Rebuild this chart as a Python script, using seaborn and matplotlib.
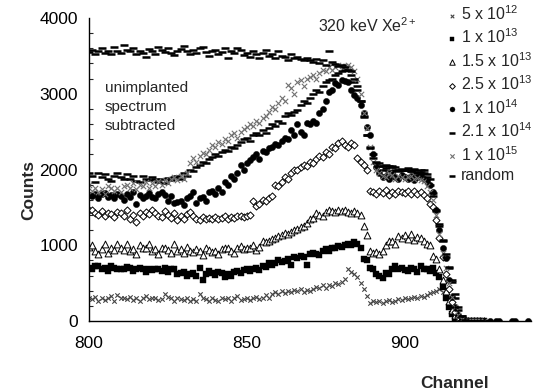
import numpy as np
import pandas as pd
import matplotlib
matplotlib.use("Agg")
import matplotlib.pyplot as plt
from matplotlib.ticker import MultipleLocator
import seaborn as sns

sns.set_theme(style="white")
plt.rcParams['font.family'] = ['Liberation Sans', 'DejaVu Sans']
plt.rcParams['mathtext.fontset'] = 'custom'
plt.rcParams['mathtext.rm'] = 'Liberation Sans'
plt.rcParams['mathtext.it'] = 'Liberation Sans'

channels = list(range(800, 926))

dose_5e12 = [300, 290, 320, 260, 310, 280, 300, 330, 270, 340,
             310, 300, 290, 320, 280, 300, 270, 310, 330, 290,
             300, 310, 280, 290, 350, 320, 300, 260, 310, 290,
             280, 300, 270, 290, 260, 360, 310, 290, 270, 300,
             280, 260, 300, 290, 310, 270, 300, 330, 280, 290,
             300, 280, 310, 320, 290, 300, 340, 310, 350, 380,
             360, 390, 370, 400, 380, 410, 390, 420, 380, 410,
             400, 420, 450, 430, 470, 440, 480, 460, 500, 490,
             520, 560, 690, 650, 620, 580, 500, 420, 330, 240,
             260, 250, 270, 240, 260, 280, 250, 270, 290, 280,
             300, 290, 310, 320, 300, 330, 320, 340, 370, 380,
             400, 420, 380, 300, 200, 120, 60, 30, 10, 0,
             0, 0, 0, 0, 0, 0]

dose_1e13 = [700, 690, 730, 720, 680, 700, 660, 720, 700, 690,
             690, 680, 710, 700, 660, 690, 700, 680, 650, 690,
             670, 690, 680, 660, 700, 650, 680, 690, 620, 640,
             650, 600, 620, 640, 600, 700, 540, 620, 660, 640,
             610, 650, 630, 580, 620, 600, 650, 660, 640, 670,
             680, 660, 690, 700, 670, 720, 710, 760, 740, 760,
             800, 780, 790, 820, 740, 840, 830, 860, 850, 740,
             880, 900, 890, 870, 930, 950, 920, 970, 960, 990,
             980, 1000, 1020, 1000, 1040, 1010, 970, 820, 800, 700,
             680, 620, 600, 570, 640, 620, 680, 720, 690, 700,
             670, 660, 700, 690, 650, 720, 690, 680, 660, 700,
             640, 580, 450, 300, 180, 90, 40, 10, 0, 0,
             0, 0, 0, 0, 0, 0]

dose_15e13 = [980, 1000, 920, 890, 950, 1010, 900, 960, 940, 1020,
              960, 940, 1020, 930, 950, 890, 1000, 960, 970, 1010,
              920, 950, 880, 970, 960, 940, 900, 1010, 930, 950,
              900, 980, 920, 910, 950, 930, 870, 960, 940, 910,
              920, 890, 950, 970, 960, 930, 900, 960, 990, 950,
              960, 970, 1000, 940, 980, 1050, 1040, 1060, 1080, 1100,
              1120, 1140, 1160, 1150, 1180, 1200, 1220, 1240, 1260, 1300,
              1350, 1360, 1420, 1400, 1380, 1440, 1460, 1450, 1440, 1460,
              1450, 1470, 1440, 1430, 1450, 1420, 1400, 1250, 1130, 920,
              900, 910, 890, 920, 1000, 1050, 1060, 1020, 1120, 1100,
              1140, 1080, 1150, 1070, 1110, 1090, 1050, 1020, 1000, 860,
              820, 680, 540, 400, 260, 150, 80, 30, 10, 0,
              0, 0, 0, 0, 0, 0]

dose_25e13 = [1460, 1470, 1420, 1400, 1450, 1380, 1430, 1410, 1370, 1440,
              1420, 1390, 1460, 1350, 1400, 1310, 1430, 1380, 1440, 1410,
              1460, 1420, 1390, 1370, 1450, 1400, 1360, 1420, 1330, 1380,
              1350, 1410, 1440, 1380, 1350, 1330, 1370, 1340, 1360, 1350,
              1370, 1340, 1360, 1380, 1350, 1370, 1360, 1380, 1390, 1370,
              1380, 1400, 1590, 1520, 1550, 1600, 1580, 1630, 1650, 1800,
              1780, 1830, 1900, 1870, 1950, 1990, 2000, 2030, 2060, 2050,
              2100, 2090, 2140, 2180, 2160, 2230, 2200, 2300, 2280, 2350,
              2380, 2330, 2300, 2350, 2320, 2150, 2100, 2060, 2000, 1720,
              1700, 1680, 1720, 1690, 1730, 1660, 1700, 1680, 1720, 1700,
              1690, 1720, 1670, 1710, 1680, 1700, 1660, 1620, 1550, 1500,
              1330, 1100, 850, 620, 420, 250, 120, 50, 10, 0,
              0, 0, 0, 0, 0, 0]

dose_1e14 = [1660, 1650, 1680, 1630, 1670, 1690, 1640, 1660, 1620, 1670,
             1650, 1600, 1680, 1640, 1700, 1550, 1660, 1630, 1650, 1690,
             1640, 1620, 1680, 1700, 1660, 1590, 1650, 1560, 1570, 1580,
             1530, 1620, 1650, 1700, 1560, 1620, 1640, 1580, 1700, 1720,
             1680, 1760, 1700, 1830, 1800, 1920, 1880, 1950, 2060, 2000,
             2080, 2120, 2160, 2200, 2140, 2250, 2230, 2280, 2300, 2340,
             2320, 2380, 2420, 2400, 2520, 2460, 2600, 2500, 2450, 2620,
             2600, 2640, 2620, 2750, 2800, 2900, 3020, 3050, 3140, 3120,
             3180, 3170, 3150, 3050, 2980, 2940, 2850, 2750, 2560, 2450,
             2210, 2030, 1950, 1900, 1920, 1880, 1950, 1900, 1870, 1930,
             1900, 1880, 1920, 1860, 1900, 1940, 1880, 1850, 1800, 1700,
             1460, 1200, 960, 830, 540, 320, 180, 80, 30, 10,
             0, 0, 0, 0, 0, 0]
tail_channels_1e14 = [927, 929, 930, 934, 935, 939]
tail_counts_1e14 = [0, 0, 0, 0, 0, 0]

dose_21e14 = [1950, 1920, 1830, 1960, 1900, 1940, 1880, 1850, 1920, 1960,
              1900, 1870, 1940, 1880, 1920, 1850, 1830, 1910, 1880, 1860,
              1900, 1880, 1840, 1870, 1820, 1890, 1860, 1900, 1920, 1880,
              1950, 1920, 2000, 1980, 2030, 2060, 2100, 2080, 2140, 2160,
              2200, 2180, 2230, 2260, 2240, 2300, 2280, 2330, 2360, 2400,
              2420, 2380, 2450, 2480, 2460, 2520, 2480, 2550, 2600, 2580,
              2640, 2610, 2700, 2750, 2720, 2760, 2780, 2850, 2900, 2880,
              2950, 3000, 3050, 3020, 3100, 3150, 3180, 3200, 3250, 3280,
              3300, 3320, 3310, 3250, 3150, 3050, 2900, 2700, 2450, 2300,
              2150, 2080, 2050, 2000, 2020, 1980, 2030, 2000, 1980, 2010,
              1990, 2020, 1980, 2000, 1960, 1990, 1950, 1900, 1800, 1650,
              1450, 1250, 1050, 850, 700, 520, 300, 150, 60, 0,
              0, 0, 0, 0, 0, 0]

dose_1e15 = [1800, 1720, 1760, 1700, 1740, 1680, 1780, 1750, 1720, 1760,
             1700, 1780, 1800, 1760, 1820, 1740, 1800, 1780, 1840, 1760,
             1820, 1780, 1850, 1800, 1860, 1820, 1880, 1900, 1860, 1920,
             1880, 1950, 2080, 2150, 2100, 2180, 2220, 2200, 2260, 2320,
             2300, 2360, 2340, 2400, 2380, 2450, 2480, 2420, 2500, 2540,
             2560, 2600, 2580, 2640, 2620, 2680, 2700, 2760, 2820, 2800,
             2880, 2950, 2900, 3110, 3070, 3000, 3150, 3180, 3100, 3200,
             3220, 3250, 3200, 3280, 3310, 3300, 3350, 3320, 3350, 3380,
             3360, 3370, 3380, 3350, 3300, 3200, 3000, 2750, 2550, 2300,
             2100, 2000, 1950, 1920, 1900, 1950, 1930, 1880, 1920, 1900,
             1880, 1900, 1920, 1870, 1890, 1860, 1850, 1780, 1700, 1600,
             1400, 1150, 900, 700, 500, 320, 180, 80, 20, 0,
             0, 0, 0, 0, 0, 0]

random_spec = [3550, 3580, 3530, 3560, 3600, 3540, 3570, 3520, 3620, 3560,
               3540, 3650, 3580, 3560, 3600, 3520, 3570, 3540, 3480, 3590,
               3560, 3530, 3620, 3580, 3550, 3600, 3540, 3510, 3570, 3590,
               3630, 3560, 3530, 3580, 3540, 3600, 3620, 3550, 3500, 3560,
               3580, 3520, 3550, 3600, 3470, 3560, 3540, 3600, 3580, 3510,
               3540, 3490, 3560, 3520, 3470, 3540, 3580, 3500, 3530, 3470,
               3560, 3500, 3480, 3450, 3520, 3470, 3490, 3460, 3440, 3470,
               3450, 3420, 3460, 3400, 3440, 3380, 3560, 3420, 3390, 3360,
               3380, 3350, 3320, 3300, 3200, 3100, 2900, 2690, 2450, 2290,
               2200, 2100, 2080, 2050, 2060, 2040, 2050, 2030, 2000, 1990,
               1990, 2000, 1980, 2010, 1970, 1960, 1990, 1940, 1880, 1690,
               1460, 1280, 1070, 880, 710, 540, 350, 180, 70, 10,
               0, 0, 0, 0, 0, 0]

labels = ["5 x 10$^{12}$", "1 x 10$^{13}$", "1.5 x 10$^{13}$", "2.5 x 10$^{13}$",
          "1 x 10$^{14}$", "2.1 x 10$^{14}$", "1 x 10$^{15}$", "random"]

fig = plt.figure(figsize=(5.38, 3.92), dpi=100)
ax = fig.add_axes([89/538, 1 - 321/392, 442/538, 303/392])

series = [
    (channels, dose_5e12, dict(marker='x', s=10, color='#444444', linewidth=0.8)),
    (channels, dose_1e13, dict(marker='s', s=18, color='black', edgecolor='black', linewidth=0.3)),
    (channels, dose_15e13, dict(marker='^', s=24, facecolor='white', edgecolor='black', linewidth=0.7)),
    (channels, dose_25e13, dict(marker='D', s=13, facecolor='white', edgecolor='black', linewidth=0.7)),
    (channels + tail_channels_1e14, dose_1e14 + tail_counts_1e14,
     dict(marker='o', s=20, color='black', edgecolor='black', linewidth=0.3)),
    (channels, dose_21e14, dict(marker='_', s=28, color='black', linewidth=1.8)),
    (channels, dose_1e15, dict(marker='x', s=15, color='#707070', linewidth=0.8)),
    (channels, random_spec, dict(marker='_', s=28, color='black', linewidth=1.8)),
]

for (xs, ys, kw), lab in zip(series, labels):
    df = pd.DataFrame({'Channel': xs, 'Counts': ys})
    sns.scatterplot(data=df, x='Channel', y='Counts', ax=ax, label=lab, **kw)

ax.set_xlim(800, 940)
ax.set_ylim(0, 4000)
ax.set_xticks([800, 850, 900])
ax.set_yticks([0, 1000, 2000, 3000, 4000])
ax.yaxis.set_minor_locator(MultipleLocator(200))
ax.tick_params(axis='both', which='major', direction='out', length=5, width=1,
               labelsize=12.5, colors='black', pad=3)
ax.tick_params(axis='x', which='major', pad=6)
ax.tick_params(axis='y', which='minor', direction='in', length=3, width=0.8, left=True)
for sp in ['top', 'right']:
    ax.spines[sp].set_visible(False)
for sp in ['left', 'bottom']:
    ax.spines[sp].set_color('black')
    ax.spines[sp].set_linewidth(1.0)

ax.set_xlabel('Channel', fontsize=12.5, fontweight='bold')
ax.set_ylabel('Counts', fontsize=12.5, fontweight='bold')
ax.xaxis.set_label_coords((455 - 89) / 442, -0.18)
ax.yaxis.set_label_coords(-0.12, 0.432)

ax.text(872.5, 3900, "320 keV Xe$^{2+}$", fontsize=11.5, va='center', ha='left')
ax.text(805, 2820, "unimplanted\nspectrum\nsubtracted", fontsize=11,
        va='center', ha='left', linespacing=1.45)

leg = ax.legend(loc='upper left', bbox_to_anchor=(447/538, 1 - 4/392),
                bbox_transform=fig.transFigure, frameon=False, fontsize=11.5,
                handlelength=0.6, handletextpad=0.3, labelspacing=0.3,
                borderpad=0, borderaxespad=0, markerscale=0.8)

fig.savefig('out.png', dpi=100)
